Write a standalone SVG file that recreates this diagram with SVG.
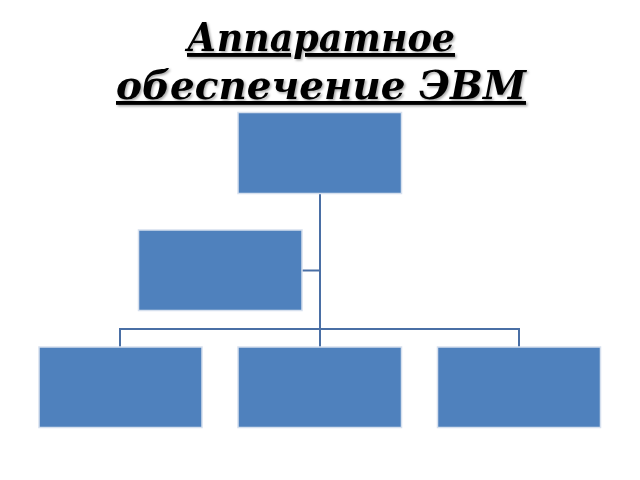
<svg xmlns="http://www.w3.org/2000/svg" width="640" height="480" viewBox="0 0 640 480">
<defs>
<filter id="sh" x="-5%" y="-20%" width="110%" height="140%">
<feDropShadow dx="1.5" dy="1.5" stdDeviation="0.8" flood-color="#000" flood-opacity="0.35"/>
</filter>
</defs>
<style>
.title{font-family:"DejaVu Serif","Liberation Serif",serif;font-weight:bold;font-style:italic;font-size:38.5px;fill:#000;text-decoration:underline;text-anchor:middle}
.box{fill:#4F81BD;stroke:#D6E0EE;stroke-width:1.5}
.conn{fill:none;stroke:#4A6FA5;stroke-width:2}
</style>
<rect width="640" height="480" fill="#fff"/>
<g id="title" filter="url(#sh)">
<text class="title" x="321" y="51" textLength="268" lengthAdjust="spacingAndGlyphs">Аппаратное</text>
<text class="title" x="321" y="99" textLength="410" lengthAdjust="spacingAndGlyphs">обеспечение ЭВМ</text>
</g>
<g id="connectors">
<path class="conn" d="M320 193 V347"/>
<path class="conn" d="M302 270.5 H320"/>
<path class="conn" d="M120 347 V329 H519 V347"/>
</g>
<g id="node-top"><rect class="box" x="238" y="112.5" width="163.5" height="81"/></g>
<g id="node-assistant"><rect class="box" x="138.5" y="230" width="163.5" height="80.5"/></g>
<g id="node-left"><rect class="box" x="39" y="347" width="163" height="80.5"/></g>
<g id="node-middle"><rect class="box" x="238" y="347" width="163.5" height="80.5"/></g>
<g id="node-right"><rect class="box" x="437.5" y="347" width="163" height="80.5"/></g>
</svg>
